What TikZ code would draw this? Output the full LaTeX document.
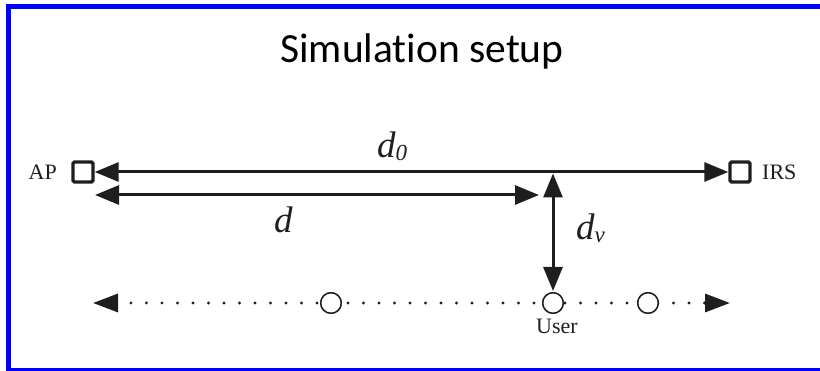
\documentclass[tikz,border=0pt]{standalone}
\usepackage{fontspec}
\setmainfont{Liberation Serif}
\newfontfamily\titlefont[Ligatures={NoCommon}]{Carlito}
\usetikzlibrary{arrows.meta}
\definecolor{frameblue}{RGB}{0,0,255}
\definecolor{ink}{RGB}{30,30,30}
\tikzset{
  sqnode/.style={draw=ink, line width=3.4pt, minimum size=20pt, inner sep=0pt, rounded corners=1.5pt},
  circnode/.style={circle, draw=ink, line width=1.4pt, minimum size=20.5pt, inner sep=0pt, fill=white},
  bigarrow/.style={draw=ink, line width=3pt, {Triangle[length=24pt,width=19pt]}-{Triangle[length=24pt,width=19pt]}},
  dotline/.style={draw=ink, line width=3.2pt, line cap=round, dash pattern=on 0pt off 15.5pt, dash phase=1.8pt,
     {Triangle[length=25pt,width=18pt]}-{Triangle[length=25pt,width=18pt]}},
  lbl/.style={inner sep=0pt, font=\fontsize{22}{24}\selectfont, text=ink},
  mathlbl/.style={inner sep=0pt, font=\fontsize{37}{39}\selectfont\itshape, text=ink}
}
\begin{document}
\begin{tikzpicture}[x=1pt,y=-1pt]
\useasboundingbox (0,0) rectangle (820,371);
% frame
\fill[frameblue] (6,4) rectangle (820,9);
\fill[frameblue] (6,4) rectangle (11,371);
\fill[frameblue] (6,368.5) rectangle (820,371);
% title
\node[anchor=base, inner sep=0pt, font=\titlefont\fontsize{41.5}{44}\selectfont] (title) at (422,63) {Simulation setup};
% squares
\node[sqnode] (ap) at (83,172) {};
\node[sqnode] (irs) at (740,172) {};
\node[lbl, anchor=east] (aplbl) at (57,172) {AP};
\node[lbl, anchor=west] (irslbl) at (762,172) {IRS};
% d0 arrow
\draw[bigarrow] (ap.east) -- (irs.west);
\node[mathlbl, anchor=base west] (d0) at (377,158) {d\raisebox{-3pt}{\fontsize{23}{23}\selectfont\itshape 0}};
% d arrow
\coordinate (dl) at (95,195);
\coordinate (dr) at (539,195);
\draw[bigarrow] (dl) -- (dr);
\node[mathlbl, anchor=base west] (dlbl) at (274,233) {d};
% circles
\node[circnode] (c1) at (331,303) {};
\node[circnode] (user) at (553,303) {};
\node[circnode] (c3) at (648,303) {};
% vertical arrow
\coordinate (vtop) at (553,173.5);
\coordinate (vbot) at (553,291);
\draw[bigarrow] (vtop) -- (vbot);
\node[mathlbl, anchor=base west] (dv) at (576,240) {d\raisebox{-3pt}{\fontsize{23}{23}\selectfont\itshape v}};
% dotted line
\coordinate (lt) at (93,303);
\coordinate (rt) at (730,303);
\draw[dotline] (lt) -- (rt);
\node[circnode] at (c1) {};
\node[circnode] at (user) {};
\node[circnode] at (c3) {};
\node[lbl, anchor=north] (userlbl) at (557,319) {User};
\end{tikzpicture}
\end{document}
